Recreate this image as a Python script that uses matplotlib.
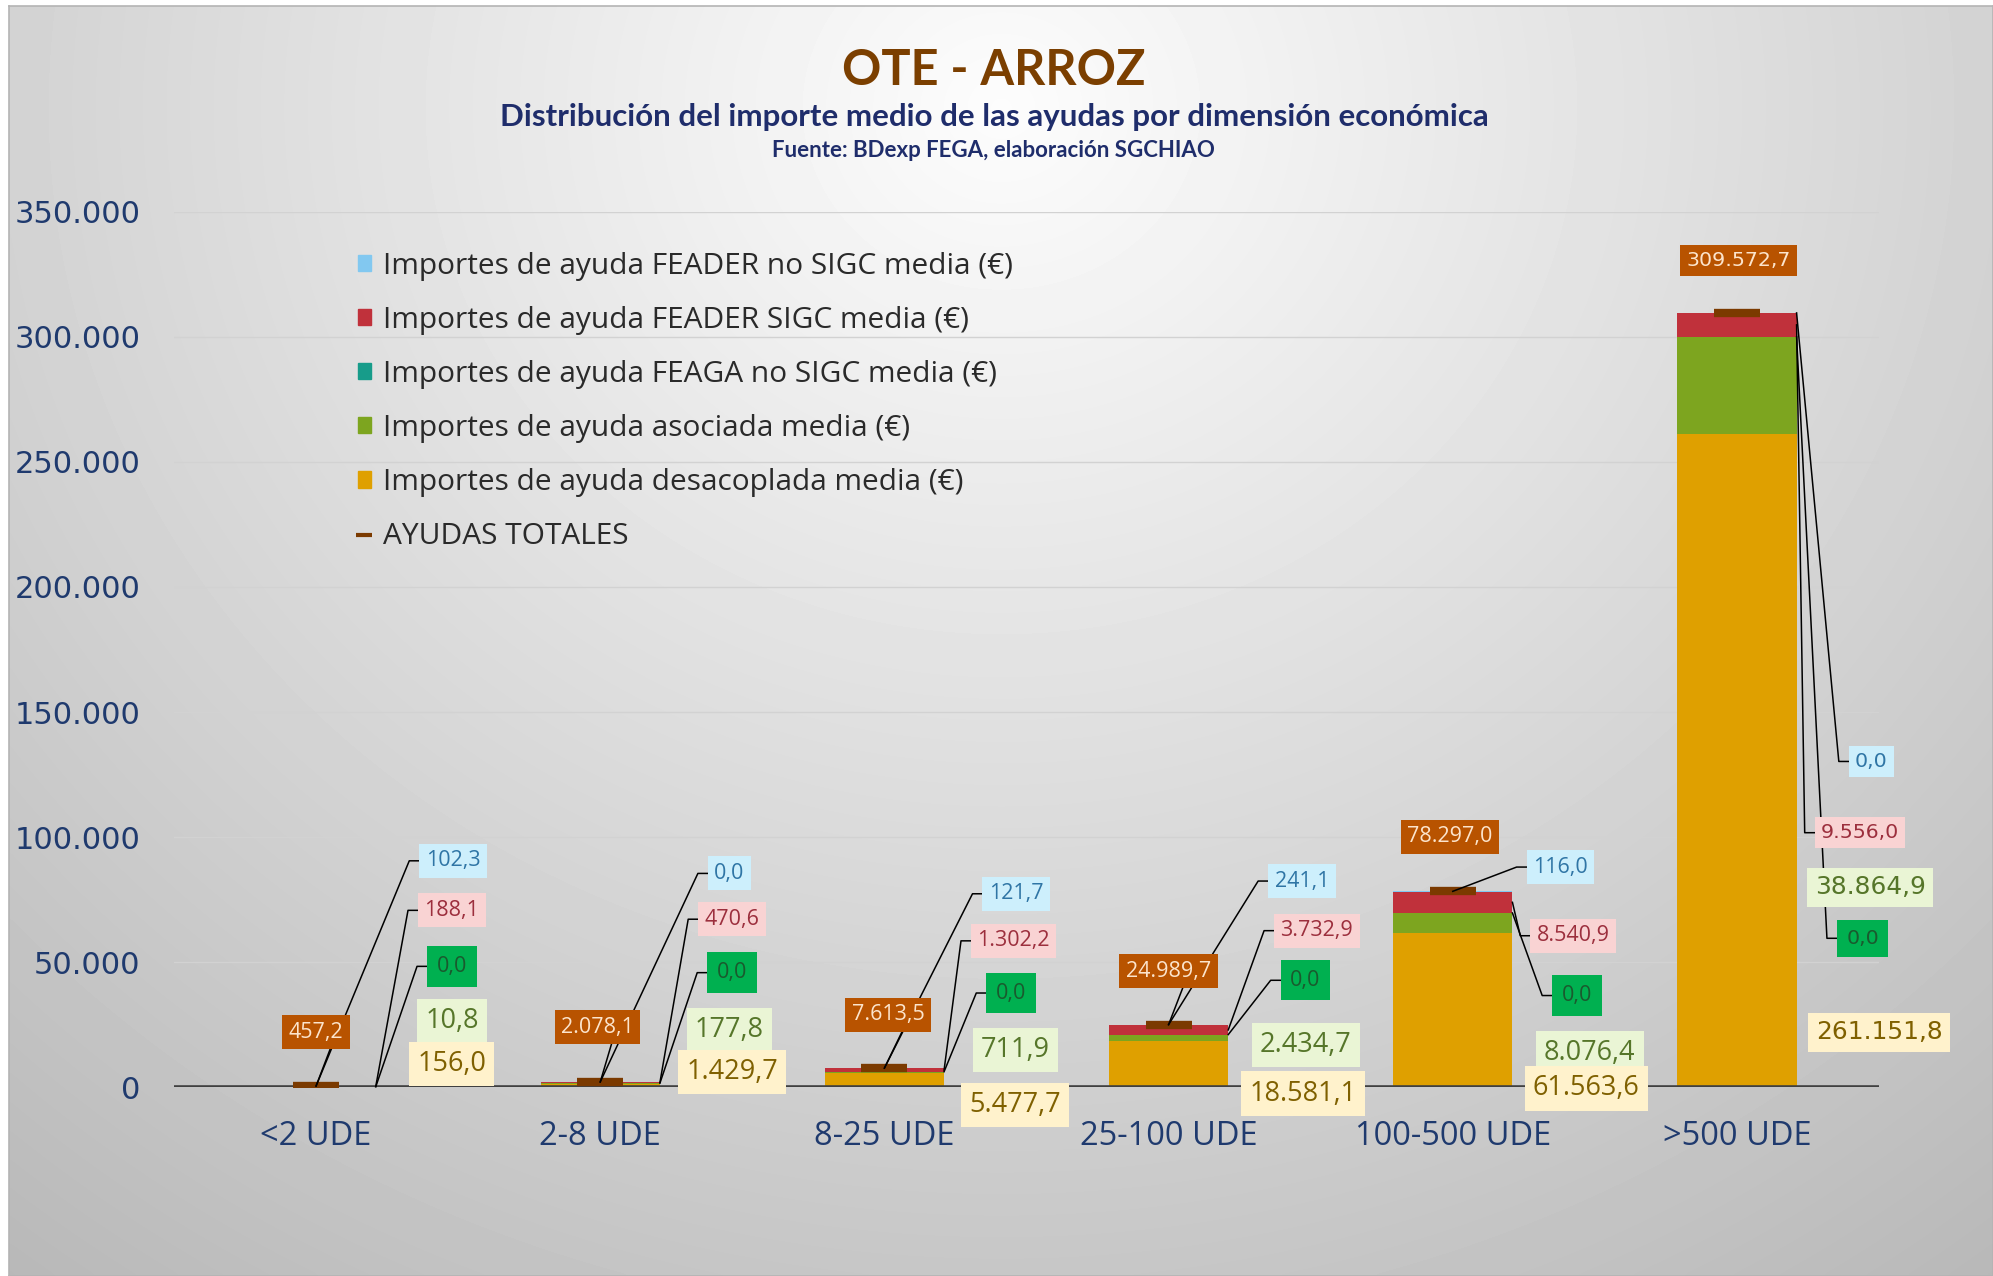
import numpy as np
import matplotlib
matplotlib.use("Agg")
import matplotlib.pyplot as plt
from matplotlib.patches import Patch
from matplotlib.lines import Line2D

# datos (importes medios en euros)
categorias = ['<2 UDE', '2-8 UDE', '8-25 UDE', '25-100 UDE', '100-500 UDE', '>500 UDE']
desacoplada = [156.0, 1429.7, 5477.7, 18581.1, 61563.6, 261151.8]
asociada = [10.8, 177.8, 711.9, 2434.7, 8076.4, 38864.9]
feaga_no_sigc = [0.0, 0.0, 0.0, 0.0, 0.0, 0.0]
feader_sigc = [188.1, 470.6, 1302.2, 3732.9, 8540.9, 9556.0]
feader_no_sigc = [102.3, 0.0, 121.7, 241.1, 116.0, 0.0]
totales = [457.2, 2078.1, 7613.5, 24989.7, 78297.0, 309572.7]

nombres = {
    'blue': 'Importes de ayuda FEADER no SIGC media (€)',
    'red': 'Importes de ayuda FEADER SIGC media (€)',
    'feaga': 'Importes de ayuda FEAGA no SIGC media (€)',
    'asoc': 'Importes de ayuda asociada media (€)',
    'desac': 'Importes de ayuda desacoplada media (€)',
    'total': 'AYUDAS TOTALES',
}

# posiciones de las etiquetas (desplazamiento x respecto a la categoria, y en datos)
pos_etiquetas = {
    'total': [(0.0, 21900), (-0.01, 23900), (0.013, 29000), (0.0, 46290), (-0.01, 100200), (0.005, 330650)],
    'blue': [(0.482, 90500), (0.455, 85460), (0.464, 77320), (0.469, 82410), (0.379, 88000), (0.473, 130230)],
    'red': [(0.478, 70700), (0.464, 67150), (0.455, 58500), (0.522, 62570), (0.424, 60540), (0.433, 101740)],
    'feaga': [(0.478, 48300), (0.464, 45780), (0.446, 37640), (0.482, 42730), (0.4375, 36630), (0.442, 59520)],
    'asoc': [(0.478, 26450), (0.455, 22890), (0.46, 14750), (0.482, 16790), (0.482, 13730), (0.469, 79870)],
    'desac': [(0.478, 9150), (0.464, 6100), (0.46, -7120), (0.473, -2540), (0.469, -500), (0.5, 21870)],
}
total_con_guia = [True, True, True, True, False, False]

colores = {'desac': '#DFA000', 'asoc': '#7DA51F', 'feaga': '#179C8A',
           'red': '#C0313B', 'blue': '#82C8F0', 'total': '#7B3A00'}
estilos = {
    'total': dict(fc='#B85300', tc='#FCE4CC', fs=15.5, pad=0.3),
    'blue': dict(fc='#CDEFFC', tc='#2F75A5', fs=15.5, pad=0.3),
    'red': dict(fc='#F9D3D3', tc='#9C2F3D', fs=15.5, pad=0.3),
    'feaga': dict(fc='#00B050', tc='#1A5A2E', fs=15.5, pad=0.45),
    'asoc': dict(fc='#EAF5D5', tc='#56762A', fs=19.5, pad=0.3),
    'desac': dict(fc='#FFF2CC', tc='#7F6000', fs=19.5, pad=0.3),
}


def fmt_es(v):
    s = f"{v:,.1f}"
    return s.replace(',', 'X').replace('.', ',').replace('X', '.')


fig = plt.figure(figsize=(19.93, 12.76), dpi=100)
fig.patch.set_facecolor('white')

# fondo con degradado
bg = fig.add_axes([0.0045, 0.0, 0.9955, 0.9953], zorder=-10)
gy, gx = np.mgrid[0:1:400j, 0:1:600j]
r = np.sqrt(((gx - 0.5) / 0.7) ** 2 + ((gy - 0.08) / 1.0) ** 2)
shade = np.clip(0.99 - 0.23 * r, 0, 1)
bg.imshow(shade, cmap='gray', vmin=0, vmax=1, extent=(0, 1, 0, 1),
          origin='upper', aspect='auto', interpolation='bicubic')
bg.set_xticks([])
bg.set_yticks([])
for s in bg.spines.values():
    s.set_color('#B4B4B4')
    s.set_linewidth(1.2)

ax = fig.add_axes([0.0873, 0.148, 0.8555, 0.686])
ax.patch.set_alpha(0)
x = np.arange(len(categorias))
ancho = 0.42

series = [('desac', desacoplada), ('asoc', asociada), ('feaga', feaga_no_sigc),
          ('red', feader_sigc), ('blue', feader_no_sigc)]
base = np.zeros(len(categorias))
bases = {}
for key, vals in series:
    vals = np.array(vals)
    bases[key] = base.copy()
    ax.bar(x, vals, ancho, bottom=base, color=colores[key], zorder=2)
    base = base + vals
tope = base

ax.plot(x, totales, ls='none', marker='_', ms=33, mew=6, color=colores['total'], zorder=4)

ax.set_xlim(-0.5, 5.5)
ax.set_ylim(0, 350000)
ax.set_yticks(np.arange(0, 350001, 50000))
ax.set_yticklabels([f"{int(v):,}".replace(',', '.') for v in ax.get_yticks()],
                   fontsize=22, color='#1F3A6E', family='DejaVu Sans')
ax.set_xticks(x)
ax.set_xticklabels(categorias, fontsize=23.5, color='#1F3A6E', family='Open Sans')
ax.tick_params(axis='y', length=0, pad=24)
ax.tick_params(axis='x', length=0, pad=24)
for s in ax.spines.values():
    s.set_visible(False)
ax.yaxis.grid(True, color='#D2D2D2', lw=1)
ax.set_axisbelow(True)
ax.axhline(0, color='#404040', lw=2.6, zorder=3)

# etiquetas de datos
valores = {'desac': desacoplada, 'asoc': asociada, 'feaga': feaga_no_sigc,
           'red': feader_sigc, 'blue': feader_no_sigc, 'total': totales}
textos = {}
for key in ['asoc', 'desac', 'red', 'feaga', 'blue', 'total']:
    st = estilos[key]
    for i, (dx, yy) in enumerate(pos_etiquetas[key]):
        fam = 'DejaVu Sans' if i == 5 else 'Open Sans'
        fs = st['fs'] * (0.95 if i == 5 else 1.0)
        if i == 5 and key in ('asoc', 'desac'):
            fs = st['fs'] * 0.92
        t = ax.text(i + dx, yy, fmt_es(valores[key][i]), ha='center', va='center',
                    fontsize=fs, color=st['tc'], family=fam, zorder=6, clip_on=False,
                    bbox=dict(boxstyle=f"square,pad={st['pad']}", fc=st['fc'], ec='none'))
        textos[(key, i)] = t

fig.canvas.draw()
inv = ax.transData.inverted()


def caja(t):
    return t.get_bbox_patch().get_window_extent()


def guia(t, anchor):
    bb = caja(t)
    ymid = (bb.y0 + bb.y1) / 2
    p_ancla = ax.transData.transform(anchor)
    pts = np.array([p_ancla, (bb.x0 - 10, ymid), (bb.x0, ymid)])
    d = inv.transform(pts)
    ax.plot(d[:, 0], d[:, 1], color='black', lw=1.1, zorder=5, clip_on=False)


for i in range(len(categorias)):
    xr = i + ancho / 2
    # FEADER no SIGC
    t = textos[('blue', i)]
    if pos_etiquetas['blue'][i][1] > tope[i]:
        guia(t, (i, tope[i]))
    else:
        guia(t, (xr, tope[i]))
    guia(textos[('red', i)], (xr, bases['red'][i] + feader_sigc[i] / 2))
    guia(textos[('feaga', i)], (xr, bases['feaga'][i]))
    if total_con_guia[i]:
        bb = caja(textos[('total', i)])
        cx = (bb.x0 + bb.x1) / 2
        pts = np.array([(cx + 14, bb.y0), ax.transData.transform((i, totales[i]))])
        d = inv.transform(pts)
        ax.plot(d[:, 0], d[:, 1], color='black', lw=1.1, zorder=5, clip_on=False)

# leyenda
handles = [Patch(color=colores[k]) for k in ['blue', 'red', 'feaga', 'asoc', 'desac']]
handles.append(Line2D([], [], color=colores['total'], marker='_', ls='none', ms=12, mew=3))
labels = [nombres[k] for k in ['blue', 'red', 'feaga', 'asoc', 'desac', 'total']]
ax.legend(handles, labels, loc='upper left', bbox_to_anchor=(0.092, 0.985), frameon=False,
          prop={'family': 'Open Sans', 'size': 21.5}, labelcolor='#2A2A2A',
          handlelength=0.45, handleheight=0.45, handletextpad=0.4, labelspacing=0.84)

# titulos
fig.text(0.4987, 0.945, 'OTE - ARROZ', ha='center', va='center', fontsize=35,
         fontweight='bold', color='#7B3F00', family='Lato')
fig.text(0.4987, 0.908, 'Distribución del importe medio de las ayudas por dimensión económica',
         ha='center', va='center', fontsize=22.5, fontweight='bold', color='#1F2D6B', family='Lato')
fig.text(0.4987, 0.882, 'Fuente: BDexp FEGA, elaboración SGCHIAO', ha='center', va='center',
         fontsize=16, fontweight='bold', color='#1F2D6B', family='Lato')

fig.savefig('out.png', dpi=100)
